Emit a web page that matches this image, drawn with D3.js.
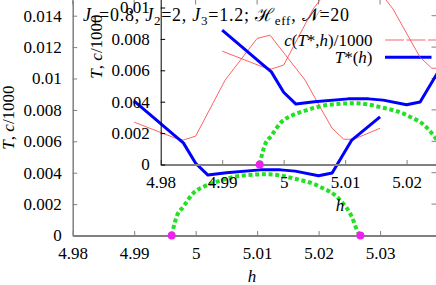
<!DOCTYPE html>
<html><head><meta charset="utf-8">
<script src="https://cdn.jsdelivr.net/npm/d3@7"></script>
<style>
html,body{margin:0;padding:0;background:#fff;}
svg{display:block;font-family:"Liberation Serif","Times New Roman",serif;}
</style></head>
<body>
<svg id="chart" width="436" height="285"></svg>
<script>
// ---------- data ----------
const hTicks = [4.98, 4.99, 5.00, 5.01, 5.02, 5.03];
const hTickLabels = ["4.98", "4.99", "5", "5.01", "5.02", "5.03"];
const tTicks = [0, 0.002, 0.004, 0.006, 0.008, 0.010, 0.012, 0.014];
const tTickLabels = ["0", "0.002", "0.004", "0.006", "0.008", "0.01", "0.012", "0.014"];

// T*(h)
const tStarH = [4.990, 4.9935, 4.9965, 4.998, 5.000, 5.002, 5.005, 5.0105, 5.0138, 5.0162, 5.020, 5.0222, 5.0254, 5.030];
const tStarT = [0.00856, 0.0074, 0.0064, 0.0059, 0.0046, 0.00385, 0.0040, 0.00418, 0.00418, 0.0041, 0.0038, 0.00398, 0.00608, 0.00756];

// c(T*,h)/1000
const cH = [4.990, 4.9967, 4.998, 5.000, 5.0048, 5.0100, 5.0121, 5.0178, 5.0205, 5.0222, 5.0241, 5.0257, 5.0300];
const cV = [0.00722, 0.0062, 0.00608, 0.00633, 0.0099, 0.01255, 0.01276, 0.0099, 0.0080, 0.00683, 0.00613, 0.00613, 0.00683];

// boundary arc (green dotted)
const arcH = [4.9961, 4.9969, 4.9980, 4.9996, 5.0013, 5.0034, 5.0072, 5.0116, 5.0159, 5.0202, 5.0235, 5.0254, 5.0265, 5.0268];
const arcT = [0, 0.0012, 0.00183, 0.00269, 0.00311, 0.00342, 0.00379, 0.0039, 0.00364, 0.00311, 0.00226, 0.0012, 0.00014, 0];

// end points (magenta)
const dotH = [4.9961, 5.0268];
const dotT = [0, 0];

// ---------- drawing ----------
const svg = d3.select("#chart");
const FS = 17;

function panel(dx, dy, frameColor, leftColor, withLegend, withTop) {
  const g = svg.append("g").attr("transform", `translate(${dx},${dy})`);
  const x = d3.scaleLinear().domain([4.98, 5.0391]).range([72.7, 436]);
  const y = d3.scaleLinear().domain([0, 0.015]).range([235.5, 0]);

  // bottom axis
  const xa = g.append("g").attr("transform", `translate(0,${y(0)})`)
    .call(d3.axisBottom(x).tickValues(hTicks).tickFormat((d, i) => hTickLabels[i])
      .tickSizeInner(-4.5).tickSizeOuter(0).tickPadding(11.5));
  xa.select(".domain").attr("stroke", frameColor).attr("stroke-width", 2);
  xa.selectAll(".tick line").attr("stroke", frameColor);
  xa.selectAll("text").attr("font-size", FS).attr("fill", "#000").attr("font-family", "Liberation Serif");

  // left axis
  const ya = g.append("g").attr("transform", `translate(${x(4.98)},0)`)
    .call(d3.axisLeft(y).tickValues(tTicks).tickFormat((d, i) => tTickLabels[i])
      .tickSizeInner(-4.5).tickSizeOuter(0).tickPadding(11));
  ya.select(".domain").attr("stroke", leftColor).attr("stroke-width", leftColor === "#000" ? 1 : 1.5);
  ya.selectAll(".tick line").attr("stroke", leftColor);
  ya.selectAll("text").attr("font-size", FS).attr("fill", "#000").attr("font-family", "Liberation Serif");

  if (withTop) {
    // mirrored ticks on top and right
    g.append("g").selectAll("line").data(hTicks).join("line")
      .attr("x1", d => x(d)).attr("x2", d => x(d)).attr("y1", y(0.015)).attr("y2", y(0.015) + 4.5)
      .attr("stroke", frameColor);
    g.append("g").selectAll("line").data(tTicks).join("line")
      .attr("x1", x(5.0391)).attr("x2", x(5.0391) - 4.5).attr("y1", d => y(d)).attr("y2", d => y(d))
      .attr("stroke", frameColor);
  }

  // axis titles
  g.append("text").attr("x", 252).attr("y", 282).attr("font-size", FS)
    .attr("font-style", "italic").attr("text-anchor", "middle").text("h");
  const yl = g.append("text").attr("transform", "translate(13.5,117.5) rotate(-90)")
    .attr("font-size", FS).attr("text-anchor", "middle");
  yl.append("tspan").attr("font-style", "italic").text("T");
  yl.append("tspan").text(", ");
  yl.append("tspan").attr("font-style", "italic").text("c");
  yl.append("tspan").text("/1000");

  // curves
  const line = d3.line().x(d => x(d[0])).y(d => y(d[1]));
  g.append("path").datum(cH.map((h, i) => [h, cV[i]])).attr("d", line)
    .attr("fill", "none").attr("stroke", "#ff3a3a").attr("stroke-width", 0.8);
  g.append("path").datum(tStarH.map((h, i) => [h, tStarT[i]])).attr("d", line)
    .attr("fill", "none").attr("stroke", "#0000ff").attr("stroke-width", 3).attr("stroke-linejoin", "round");
  g.append("path").datum(arcH.map((h, i) => [h, arcT[i]])).attr("d", d3.line().curve(d3.curveMonotoneX).x(d => x(d[0])).y(d => y(d[1])))
    .attr("fill", "none").attr("stroke", "#22e022").attr("stroke-width", 4).attr("stroke-dasharray", "4,2.7");
  g.append("g").selectAll("circle").data(dotH.map((h, i) => [h, dotT[i]])).join("circle")
    .attr("cx", d => x(d[0])).attr("cy", d => y(d[1])).attr("r", 4).attr("fill", "#ee22ee");

  if (withLegend) {
    const t1 = g.append("text").attr("x", 372.5).attr("y", 46).attr("font-size", FS).attr("text-anchor", "end");
    t1.append("tspan").attr("font-style", "italic").text("c");
    t1.append("tspan").text("(");
    t1.append("tspan").attr("font-style", "italic").text("T");
    t1.append("tspan").text("*,");
    t1.append("tspan").attr("font-style", "italic").text("h");
    t1.append("tspan").text(")/1000");
    g.append("line").attr("x1", 385).attr("x2", 436).attr("y1", 40).attr("y2", 40)
      .attr("stroke", "#ff3a3a").attr("stroke-width", 0.8).attr("stroke-dasharray", "19,2.5");
    const t2 = g.append("text").attr("x", 372.5).attr("y", 63).attr("font-size", FS).attr("text-anchor", "end");
    t2.append("tspan").attr("font-style", "italic").text("T");
    t2.append("tspan").text("*(");
    t2.append("tspan").attr("font-style", "italic").text("h");
    t2.append("tspan").text(")");
    g.append("line").attr("x1", 385).attr("x2", 431.5).attr("y1", 57.3).attr("y2", 57.3)
      .attr("stroke", "#0000ff").attr("stroke-width", 3);

    // title
    const tt = g.append("text").attr("x", 83).attr("y", 21).attr("font-size", 18)
      .style("letter-spacing", "0.75px");
    const sub = (s) => tt.append("tspan").attr("font-size", 13).attr("dy", 4).text(s);
    tt.append("tspan").attr("font-style", "italic").text("J");
    sub("1");
    tt.append("tspan").attr("dy", -4).text("=0.8, ");
    tt.append("tspan").attr("font-style", "italic").text("J");
    sub("2");
    tt.append("tspan").attr("dy", -4).text("=2, ");
    tt.append("tspan").attr("font-style", "italic").text("J");
    sub("3");
    tt.append("tspan").attr("dy", -4).text("=1.2; ");
    tt.append("tspan").text("ℋ");
    sub("eff");
    tt.append("tspan").attr("dy", -4).text(", ");
    tt.append("tspan").text("𝒩");
    tt.append("tspan").text("=20");
  }
  return g;
}

panel(0, 0, "#808080", "#808080", true, true);
panel(88, -71, "#808080", "#000", false, false);
</script>
</body></html>
